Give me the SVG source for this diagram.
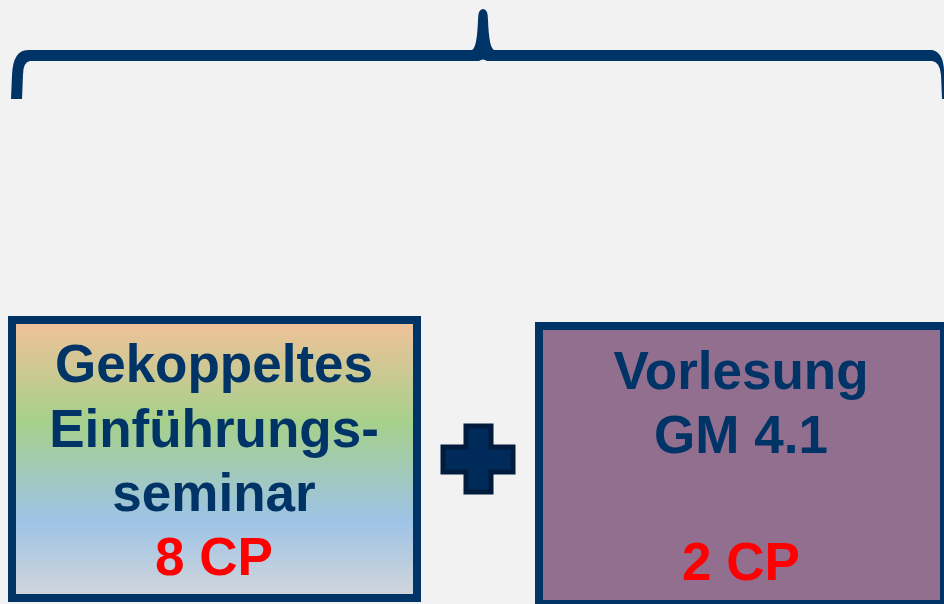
<svg xmlns="http://www.w3.org/2000/svg" width="944" height="604" viewBox="0 0 944 604">
<defs>
<linearGradient id="g1" x1="0" y1="0" x2="0" y2="1">
<stop offset="0" stop-color="#F2C19A"/>
<stop offset="0.37" stop-color="#A6D08C"/>
<stop offset="0.72" stop-color="#9DC3E6"/>
<stop offset="1" stop-color="#D3D6DB"/>
</linearGradient>
<style>
.box{stroke:#003366;stroke-width:8}
.t{font-family:"Liberation Sans",Arial,sans-serif;font-weight:bold;font-size:53px;fill:#003366;text-anchor:middle}
.cp{fill:#FF0000}
</style>
</defs>
<rect width="944" height="604" fill="#F2F2F2"/>
<g id="brace">
<path d="M11,99 L12,75 Q13,50 28,50 L472,50 Q477,48 478,20 Q478,9 483,9 Q488,9 488,20 Q489,48 494,50 L932,50 Q943,52 944,70 L944,99 L942,99 L941,75 Q940,62 932,61 L487,61 Q483,58 479,61 L30,61 Q23,62 23,75 L22,99 Z" fill="#003366"/>
</g>
<g id="connectors"></g>
<g id="seminar">
<rect x="12" y="320" width="405" height="278" fill="url(#g1)" class="box"/>
<text x="214" y="382" class="t">Gekoppeltes</text>
<text x="214" y="447" class="t">Einführungs-</text>
<text x="214" y="511" class="t">seminar</text>
<text x="214" y="575" class="t cp">8 CP</text>
</g>
<g id="plus">
<path d="M466,426 L491,426 L491,447 L513,447 L513,472 L491,472 L491,492 L466,492 L466,472 L443,472 L443,447 L466,447 Z" fill="#002A5A" stroke="#001B3C" stroke-width="5" stroke-linejoin="miter"/>
</g>
<g id="vorlesung">
<rect x="539" y="326" width="405" height="278" fill="#926E8F" class="box"/>
<text x="741" y="389" class="t">Vorlesung</text>
<text x="741" y="453" class="t">GM 4.1</text>
<text x="741" y="580" class="t cp">2 CP</text>
</g>
</svg>
